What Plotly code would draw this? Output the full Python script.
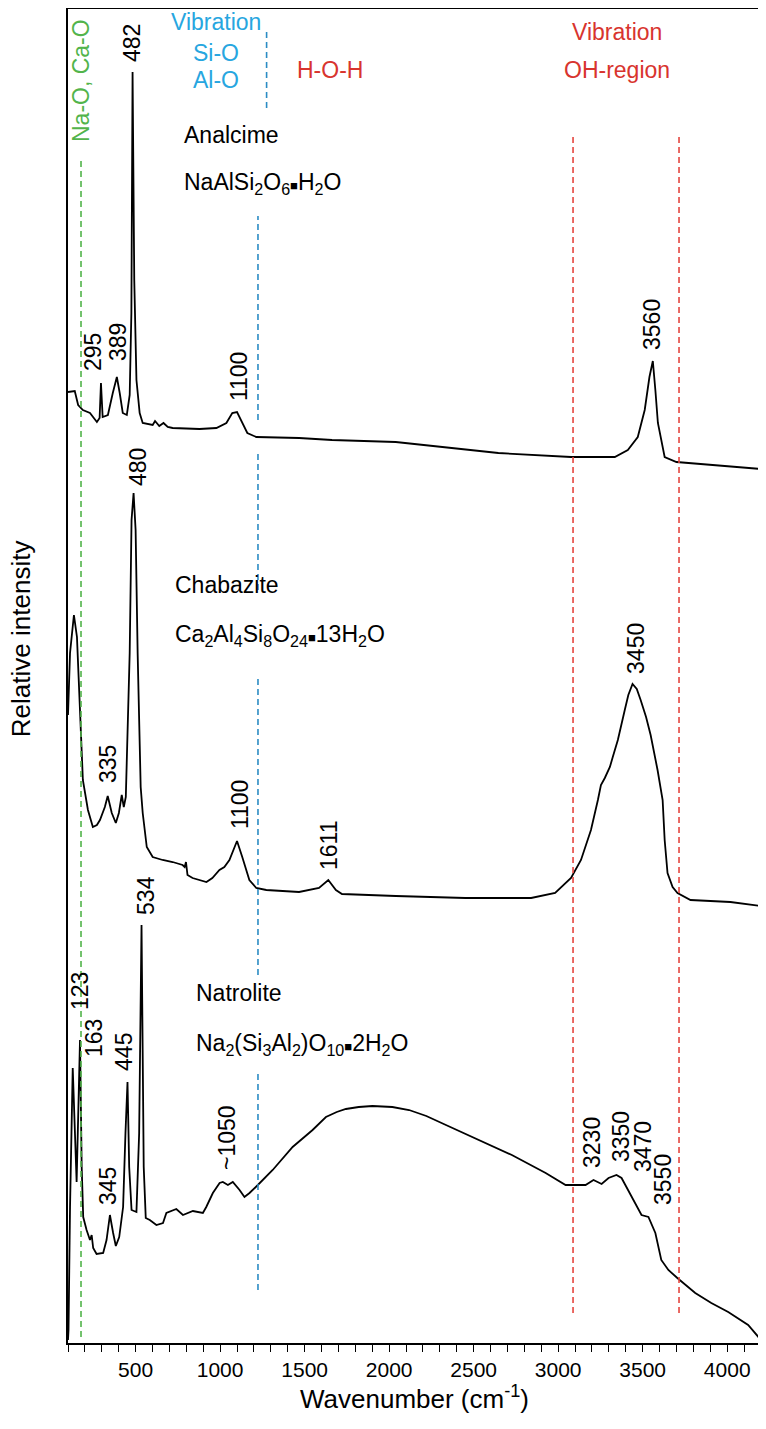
import plotly.graph_objects as go

# Raman spectra: wavenumber (cm-1) vs relative intensity (arb. units)
analcime_wn = [100, 140, 160, 188, 230, 271, 287, 295, 305, 336, 365, 389, 406, 424, 448, 465, 475,
               482, 492, 505, 524, 542, 601, 615, 640, 665, 690, 719, 878, 978, 1037, 1072, 1100,
               1125, 1161, 1214, 1467, 1662, 2039, 2646, 3076, 3335, 3412, 3471, 3512, 3540, 3560,
               3575, 3590, 3630, 3700, 4200]
analcime_int = [951, 952, 938, 933, 930, 921, 925, 960, 926, 928, 950, 966, 950, 930, 928, 948, 1030,
                1271, 1063, 963, 930, 920, 918, 922, 917, 920, 916, 915, 914, 915, 920, 930, 931,
                923, 910, 906, 905, 903, 901, 890, 886, 886, 893, 906, 933, 966, 982,
                953, 920, 886, 881, 874]

chabazite_wn = [100, 112, 124, 135, 153, 171, 188, 218, 247, 271, 289, 318, 335, 359, 383, 401, 418,
                430, 442, 465, 476, 488, 500, 512, 530, 542, 566, 601, 660, 719, 778, 790, 798, 807,
                837, 919, 954, 996, 1025, 1055, 1100, 1131, 1173, 1214, 1273, 1467, 1585, 1640,
                1685, 1721, 1862, 2039, 2451, 2840, 2982, 3076, 3135, 3194, 3235, 3253, 3276, 3306,
                3323, 3353, 3394, 3415, 3440, 3465, 3488, 3520, 3547, 3588, 3618, 3630, 3647, 3677,
                3706, 3783, 4019, 4200]
chabazite_int = [628, 690, 710, 728, 706, 623, 563, 533, 516, 518, 523, 536, 547, 530, 520, 530, 548,
                 536, 546, 690, 823, 850, 813, 690, 556, 530, 496, 486, 483, 481, 478, 476, 481, 468,
                 465, 461, 465, 473, 476, 483, 502, 486, 463, 455, 453, 451, 455, 463,
                 453, 449, 448, 447, 445, 445, 450, 465, 483, 513, 543, 558, 565, 576,
                 586, 603, 633, 648, 659, 654, 643, 626, 608, 573, 543, 503, 470, 456,
                 450, 443, 441, 437]

natrolite_wn = [100, 103, 112, 128, 151, 171, 181, 190, 210, 230, 240, 249, 269, 308, 328, 348, 367,
                383, 403, 426, 440, 452, 462, 476, 505, 521, 535, 548, 560, 584, 623, 662, 682, 741,
                780, 839, 898, 918, 957, 997, 1016, 1046, 1075, 1115, 1144, 1174, 1223, 1311, 1429,
                1547, 1626, 1690, 1744, 1820, 1901, 2019, 2118, 2220, 2336, 2531, 2726, 2926, 3044,
                3080, 3162, 3209, 3257, 3298, 3345, 3375, 3434, 3493, 3534, 3575, 3610, 3652, 3705,
                3811, 3906, 4006, 4124, 4200]
natrolite_int = [3, 13, 136, 275, 161, 303, 176, 126, 113, 103, 108, 95, 89, 90, 103, 128, 110,
                 97, 106, 136, 210, 261, 176, 133, 131, 210, 418, 176, 125, 123, 118, 120, 130, 134,
                 128, 132, 130, 136, 150, 160, 161, 158, 161, 153, 146, 150, 158, 173, 196,
                 213, 226, 231, 234, 236, 237, 236, 233, 227, 218, 203, 188, 170, 158,
                 158, 158, 163, 159, 165, 168, 165, 146, 128, 126, 110, 83, 73, 65,
                 50, 40, 31, 18, 3]

# peak labels: text, wavenumber, intensity of label centre
peak_text = ["482", "295", "389", "1100", "3560",
             "480", "335", "1100", "1611", "3450",
             "534", "123", "163", "445", "345", "~1050", "3230", "3350", "3470", "3550"]
peak_x = [479, 248, 396, 1112, 3555,
          514, 337, 1118, 1644, 3460,
          561, 171, 254, 431, 337, 1041, 3200, 3372, 3502, 3620]
peak_y = [1300, 991, 1001, 966, 1019,
          876, 579, 538, 498, 695,
          448, 352, 305, 291, 157, 205, 201, 206, 196, 164]

# band boundaries (cm-1)
metal_o_wn = 177
sio_top_wn = 1275
sio_wn = 1224
oh_wn = [3088, 3715]

GREEN = "#52b44b"
BLUE_LINE = "#2b8cc4"
BLUE_TEXT = "#27a6e0"
RED_LINE = "#e5463f"
RED_TEXT = "#d8342e"
FONT = "Liberation Sans, Arial, sans-serif"

fig = go.Figure()
for wn, inten in [(analcime_wn, analcime_int), (chabazite_wn, chabazite_int),
                  (natrolite_wn, natrolite_int)]:
    fig.add_trace(go.Scatter(x=wn, y=inten, mode="lines",
                             line=dict(color="black", width=1.8), showlegend=False))


def vline(x, y0, y1, color):
    fig.add_shape(type="line", xref="x", yref="y", x0=x, x1=x, y0=y0, y1=y1,
                  line=dict(color=color, width=1.6, dash="6px,4px"))


vline(metal_o_wn, 6, 1185, GREEN)
vline(sio_top_wn, 1235, 1311, BLUE_LINE)
for y0, y1 in [(923, 1127), (753, 890), (368, 668), (53, 273)]:
    vline(sio_wn, y0, y1, BLUE_LINE)
for x in oh_wn:
    vline(x, 30, 1210, RED_LINE)


def label(text, x, y, color="black", size=23, angle=0, xanchor="center"):
    fig.add_annotation(text=text, x=x, y=y, xref="x", yref="y", showarrow=False,
                       textangle=angle, xanchor=xanchor, yanchor="middle",
                       font=dict(color=color, size=size, family=FONT))


label("Vibration", 976, 1321, BLUE_TEXT)
label("Si-O", 976, 1290, BLUE_TEXT)
label("Al-O", 976, 1263, BLUE_TEXT)
label("H-O-H", 1650, 1273, RED_TEXT)
label("Vibration", 3348, 1311, RED_TEXT)
label("OH-region", 3348, 1273, RED_TEXT)
label("Na-O, Ca-O", metal_o_wn, 1262, GREEN, angle=-90)

dot = "<span style='font-size:13px'>\u25a0</span>"
label("Analcime", 774, 1208, xanchor="left")
label("NaAlSi<sub>2</sub>O<sub>6</sub>" + dot + "H<sub>2</sub>O", 774, 1160, xanchor="left")
label("Chabazite", 721, 758, xanchor="left")
label("Ca<sub>2</sub>Al<sub>4</sub>Si<sub>8</sub>O<sub>24</sub>" + dot + "13H<sub>2</sub>O",
      721, 708, xanchor="left")
label("Natrolite", 845, 350, xanchor="left")
label("Na<sub>2</sub>(Si<sub>3</sub>Al<sub>2</sub>)O<sub>10</sub>" + dot + "2H<sub>2</sub>O",
      845, 299, xanchor="left")

for t, x, y in zip(peak_text, peak_x, peak_y):
    label(t, x, y, size=23, angle=-90)

fig.add_annotation(text="Relative intensity", xref="paper", yref="paper",
                   x=-0.044, y=0.528, showarrow=False, textangle=-90,
                   xanchor="right", yanchor="middle",
                   font=dict(size=26, family=FONT, color="black"))

# the page body adds an 8px offset, so the figure is drawn 8px smaller
fig.update_layout(
    width=758, height=1421,
    margin=dict(l=60, r=5, t=1, b=86),
    plot_bgcolor="white", paper_bgcolor="white",
    xaxis=dict(range=[100, 4200], showgrid=False, zeroline=False, automargin=False,
               showline=True, linecolor="black", linewidth=1.5, mirror=True,
               ticks="outside", ticklen=7, tickwidth=1.2, tickcolor="black",
               tick0=0, dtick=500,
               minor=dict(dtick=100, ticks="outside", ticklen=7, tickcolor="black", tickwidth=1.2),
               tickfont=dict(size=21, family=FONT, color="black"),
               title=dict(text="Wavenumber (cm<sup>-1</sup>)", standoff=6,
                          font=dict(size=26, family=FONT, color="black"))),
    yaxis=dict(range=[0, 1334], showgrid=False, zeroline=False, automargin=False,
               showline=True, linecolor="black", linewidth=1.5, mirror=True,
               ticks="", showticklabels=False),
)

fig.write_html("out.html")
